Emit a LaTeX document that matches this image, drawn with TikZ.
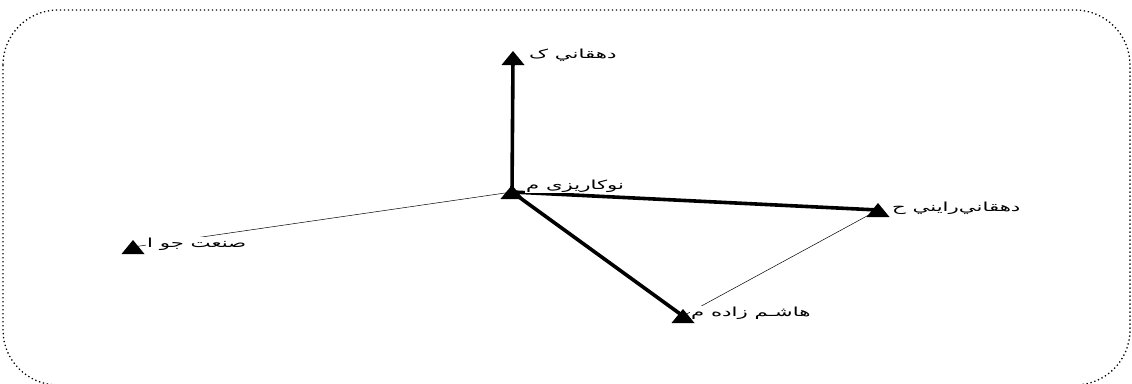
\documentclass[tikz,border=0pt]{standalone}
\usepackage{graphicx}
\usepackage{fontspec}
\newfontfamily\arabicfont[Script=Arabic]{DejaVu Sans}
\TeXXeTstate=1
\newcommand{\artxt}[1]{\scalebox{1.7}[1]{\beginR #1\endR}}
\begin{document}
\begin{tikzpicture}[x=1pt,y=-1pt,
  thickedge/.style={line width=3.6pt},
  thinedge/.style={line width=0.5pt},
  lbl/.style={anchor=west,fill=white,inner sep=1pt,font=\arabicfont\fontsize{12.5}{14}\selectfont},
  frame/.style={line width=1.3pt,dash pattern=on 1.3pt off 2.7pt,rounded corners=55pt}
]
\useasboundingbox (0,0) rectangle (1132,383);
\clip (0,0) rectangle (1132,383);
\draw[frame] (3,10) rectangle (1130,385);
% node positions
\coordinate (c) at (512,192);
\coordinate (t) at (513,58);
\coordinate (r) at (878,210);
\coordinate (l) at (133,247);
\coordinate (b) at (683,316);
% edges
\draw[thinedge] (c) -- (l);
\draw[thinedge] (r) -- (b);
\draw[thickedge] (c) -- (t);
\draw[thickedge] (c) -- (r);
\draw[thickedge] (c) -- (b);
% labels
\node[lbl] (tl) at (528,55) {\artxt{دهقاني ک}};
\node[lbl] (cl) at (525,186) {\artxt{نوکاریزی م}};
\node[lbl] (rl) at (891,208) {\artxt{دهقاني‌رايني ح}};
\node[lbl] (ll) at (146,244) {\artxt{صنعت جو ا}};
\node[lbl] (bl) at (690,313) {\artxt{هاشـم زاده م}};
% triangle markers
\foreach \p in {c,t,r,l,b}{
  \fill ([shift={(-11.5,7)}]\p) -- ([shift={(0,-7)}]\p) -- ([shift={(11.5,7)}]\p) -- cycle;
}
\end{tikzpicture}
\end{document}
